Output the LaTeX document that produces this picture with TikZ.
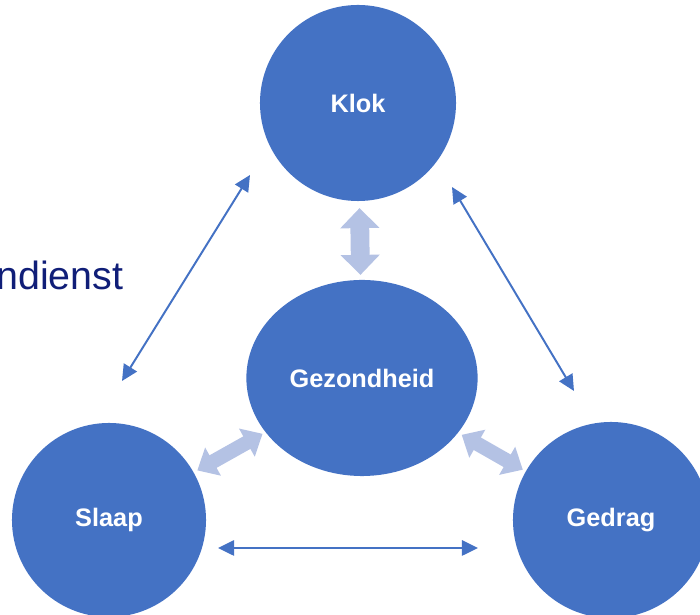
\documentclass[tikz,border=0pt]{standalone}
\usepackage{fontspec}
\setmainfont{Liberation Sans}
\usetikzlibrary{shapes.geometric}
\usetikzlibrary{arrows.meta}
\definecolor{kernblauw}{RGB}{68,114,196}
\definecolor{lichtblauw}{RGB}{180,194,228}
\definecolor{tekstblauw}{RGB}{16,30,120}

\begin{document}
\begin{tikzpicture}[x=0.025cm, y=-0.025cm,
    bol/.style={draw=none, fill=kernblauw, text=white, font=\bfseries\fontsize{18}{22}\selectfont},
    dun/.style={kernblauw, line width=1.4pt, {Triangle[width=0.38cm,length=0.4cm]}-{Triangle[width=0.38cm,length=0.4cm]}},
    dik/.style={lichtblauw, line width=0.47cm, {Triangle[width=0.95cm,length=0.5cm]}-{Triangle[width=0.95cm,length=0.5cm]}},
    dikschuin/.style={lichtblauw, line width=0.36cm, {Triangle[width=0.78cm,length=0.45cm]}-{Triangle[width=0.78cm,length=0.45cm]}}]
    \useasboundingbox (0,0) rectangle (700,615);
    \clip (0,0) rectangle (700,615);

    % Vier bollen
    \node[bol, circle, minimum size=4.9cm] (klok) at (358,103) {Klok};
    \node[bol, ellipse, minimum width=5.78cm, minimum height=4.9cm] (gezondheid) at (362,378) {Gezondheid};
    \node[bol, circle, minimum size=4.85cm] (slaap) at (109,520) {Slaap};
    \node[bol, circle, minimum size=4.9cm] (gedrag) at (611,520) {Gedrag};

    % Tekst die links uit beeld loopt
    \node[anchor=base west, inner sep=0pt, text=tekstblauw, font=\fontsize{28}{32}\selectfont] (dienst) at (-4,290) {ndienst};

    % Brede pijlen naar het midden
    \draw[dik, shorten <=0.17cm, shorten >=0.12cm] (klok) -- (gezondheid);
    \draw[dikschuin, shorten <=0.08cm, shorten >=0.1cm] (gezondheid) -- (slaap);
    \draw[dikschuin, shorten <=0.1cm, shorten >=0.08cm] (gezondheid) -- (gedrag);

    % Dunne pijlen langs de buitenkant
    \coordinate (slaap-boven) at (122,381);
    \coordinate (klok-links) at (250,175);
    \coordinate (klok-rechts) at (452,187);
    \coordinate (gedrag-boven) at (574,391);
    \coordinate (slaap-rechts) at (218,548);
    \coordinate (gedrag-links) at (478,548);
    \draw[dun] (slaap-boven) -- (klok-links);
    \draw[dun] (klok-rechts) -- (gedrag-boven);
    \draw[dun] (slaap-rechts) -- (gedrag-links);
\end{tikzpicture}
\end{document}
